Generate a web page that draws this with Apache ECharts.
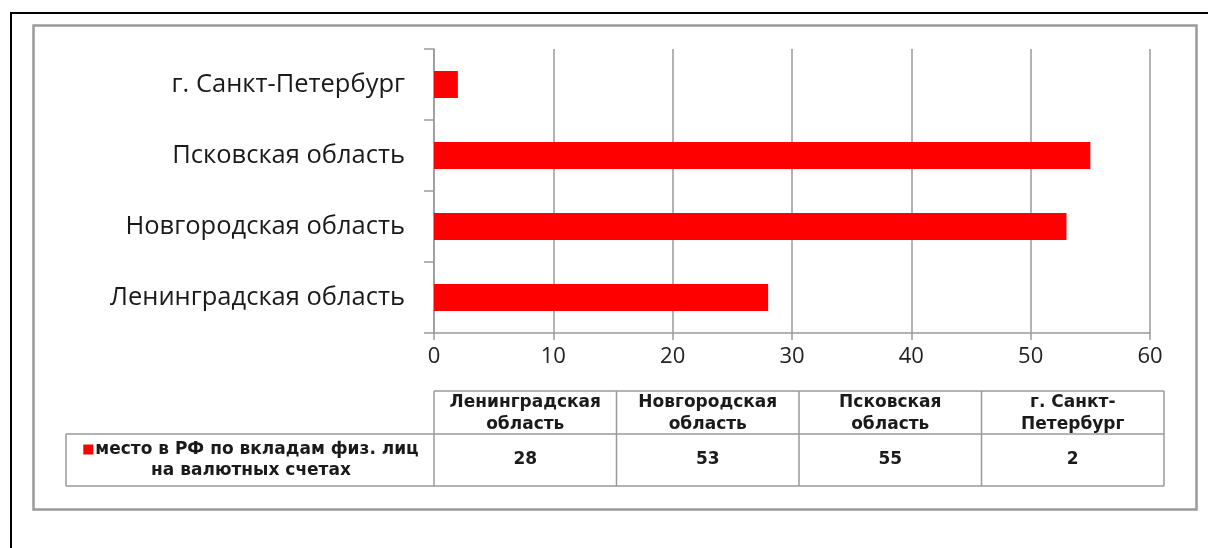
<!DOCTYPE html>
<html>
<head>
<meta charset="utf-8">
<script src="https://cdn.jsdelivr.net/npm/echarts@6/dist/echarts.min.js"></script>
<style>
html,body{margin:0;padding:0;background:#fff;}
#chart{width:1208px;height:548px;}
</style>
</head>
<body>
<div id="chart"></div>
<script>
// Data
const categories = ['Ленинградская область', 'Новгородская область', 'Псковская область', 'г. Санкт-Петербург'];
const tableHeaders = [['Ленинградская', 'область'], ['Новгородская', 'область'], ['Псковская', 'область'], ['г. Санкт-', 'Петербург']];
const seriesName = ['место в РФ по вкладам физ. лиц', 'на валютных счетах'];
const values = [28, 53, 55, 2];
const xTicks = [0, 10, 20, 30, 40, 50, 60];

const chart = echarts.init(document.getElementById('chart'));

const GRAY = '#9a9a9a';
const FONT = '"Open Sans", "DejaVu Sans", sans-serif';
const TFONT = 'bold 17px "DejaVu Sans", sans-serif';

// table layout
const colX = [434, 616.5, 799, 981.5, 1164];
const tTop = 391, tMid = 434, tBot = 486, legLeft = 66;

const graphics = [];
// outer black frame
graphics.push({type:'line', shape:{x1:10, y1:13, x2:1208, y2:13}, style:{stroke:'#000', lineWidth:2}, silent:true});
graphics.push({type:'line', shape:{x1:11, y1:12, x2:11, y2:548}, style:{stroke:'#000', lineWidth:2}, silent:true});
// gray chart frame
graphics.push({type:'rect', shape:{x:33.5, y:25.5, width:1163, height:484}, style:{fill:'none', stroke:GRAY, lineWidth:2.5}, silent:true});
// table lines
const tl = (x1,y1,x2,y2)=>graphics.push({type:'line', shape:{x1,y1,x2,y2}, style:{stroke:GRAY, lineWidth:1.5}, silent:true});
tl(colX[0], tTop, colX[4], tTop);
tl(legLeft, tMid, colX[4], tMid);
tl(legLeft, tBot, colX[4], tBot);
tl(legLeft, tMid, legLeft, tBot);
colX.forEach(x => tl(x, tTop, x, tBot));
// header text and values
tableHeaders.forEach((h, i) => {
  const cx = (colX[i] + colX[i+1]) / 2;
  graphics.push({type:'text', style:{text:h.join('\n'), x:cx, y:(tTop+tMid)/2+1, textAlign:'center', textVerticalAlign:'middle', font:TFONT, fill:'#1a1a1a', lineHeight:22}, silent:true});
  graphics.push({type:'text', style:{text:String(values[i]), x:cx, y:(tMid+tBot)/2, textAlign:'center', textVerticalAlign:'middle', font:TFONT, fill:'#1a1a1a'}, silent:true});
});
// legend cell
graphics.push({type:'text', style:{
  text:'{sq|}{gap|}' + seriesName[0] + '\n' + seriesName[1],
  x:(legLeft+colX[0])/2 + 1, y:(tMid+tBot)/2, textAlign:'center', textVerticalAlign:'middle',
  font:TFONT, fill:'#1a1a1a', lineHeight:21,
  rich:{
    sq:{backgroundColor:'#ff0000', width:10, height:10},
    gap:{width:2, height:10}
  }
}, silent:true});

chart.setOption({
  animation:false,
  backgroundColor:'#fff',
  grid:{left:434, right:58, top:49, bottom:215, containLabel:false},
  xAxis:{
    type:'value', min:0, max:60, interval:10,
    axisLine:{show:true, lineStyle:{color:GRAY, width:1.5}},
    axisTick:{show:true, length:7, lineStyle:{color:GRAY, width:1.5}},
    splitLine:{show:true, lineStyle:{color:GRAY, width:1.5}},
    axisLabel:{margin:13, fontSize:22, color:'#222', fontFamily:FONT,
      formatter: v => xTicks.includes(v) ? String(v) : ''}
  },
  yAxis:{
    type:'category', data:categories,
    axisLine:{show:true, lineStyle:{color:GRAY, width:1.5}},
    axisTick:{show:true, length:10, alignWithLabel:false, lineStyle:{color:GRAY, width:1.5}},
    axisLabel:{margin:29, fontSize:25.5, color:'#1a1a1a', fontFamily:FONT}
  },
  series:[{
    type:'bar', data:values, barWidth:27,
    itemStyle:{color:'#ff0000'}
  }],
  graphic:graphics
});
</script>
</body>
</html>
